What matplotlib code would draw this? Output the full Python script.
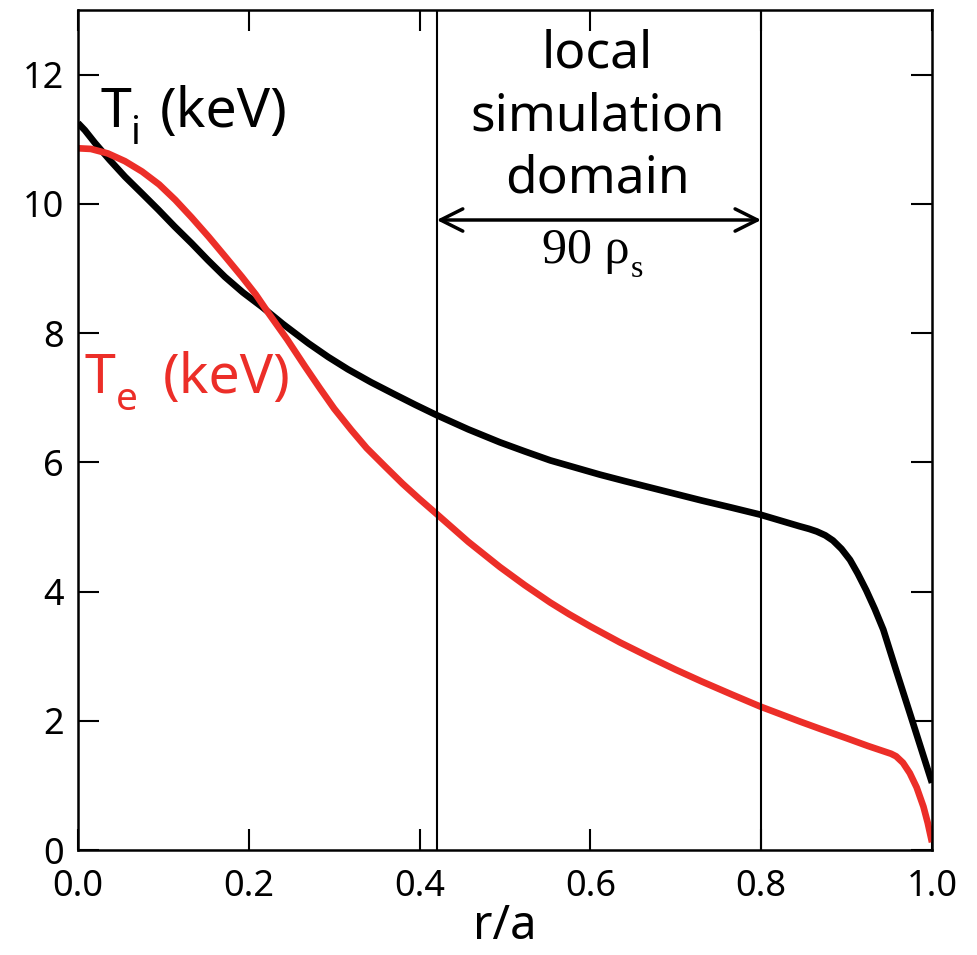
import matplotlib
matplotlib.use("Agg")
import matplotlib.pyplot as plt

plt.rcParams['font.family'] = ['Noto Sans', 'DejaVu Sans']

# ion temperature profile (keV) vs r/a
r_i = [0.0, 0.008, 0.02, 0.037, 0.055, 0.075, 0.094, 0.113, 0.133, 0.152,
       0.172, 0.193, 0.215, 0.24, 0.27, 0.293, 0.316, 0.343, 0.371, 0.395,
       0.42, 0.457, 0.494, 0.523, 0.553, 0.582, 0.611, 0.64, 0.67, 0.70,
       0.73, 0.765, 0.799, 0.822, 0.845, 0.856, 0.865, 0.875, 0.884, 0.894,
       0.904, 0.913, 0.923, 0.933, 0.943, 0.958, 0.974, 0.987, 1.0]
T_i = [11.25, 11.14, 10.94, 10.68, 10.42, 10.16, 9.91, 9.65, 9.39, 9.13,
       8.87, 8.63, 8.41, 8.14, 7.84, 7.63, 7.44, 7.24, 7.05, 6.89,
       6.73, 6.51, 6.31, 6.17, 6.03, 5.92, 5.81, 5.71, 5.61, 5.51,
       5.41, 5.30, 5.19, 5.10, 5.01, 4.97, 4.93, 4.87, 4.79, 4.66,
       4.49, 4.28, 4.02, 3.73, 3.41, 2.78, 2.12, 1.58, 1.04]

# electron temperature profile (keV) vs r/a
r_e = [0.0, 0.015, 0.035, 0.055, 0.075, 0.095, 0.114, 0.133, 0.153, 0.172,
       0.192, 0.208, 0.223, 0.245, 0.266, 0.283, 0.30, 0.32, 0.338, 0.36,
       0.38, 0.40, 0.42, 0.457, 0.494, 0.523, 0.553, 0.575, 0.60, 0.635,
       0.67, 0.70, 0.73, 0.765, 0.799, 0.845, 0.87, 0.90, 0.925, 0.943,
       0.952, 0.958, 0.966, 0.974, 0.982, 0.99, 0.995, 1.0]
T_e = [10.86, 10.85, 10.78, 10.66, 10.50, 10.30, 10.06, 9.79, 9.49, 9.19,
       8.87, 8.60, 8.31, 7.90, 7.48, 7.15, 6.83, 6.50, 6.22, 5.93,
       5.67, 5.43, 5.20, 4.77, 4.38, 4.10, 3.83, 3.65, 3.46, 3.21,
       2.98, 2.79, 2.61, 2.41, 2.22, 1.99, 1.87, 1.73, 1.61, 1.53,
       1.49, 1.45, 1.35, 1.19, 0.97, 0.67, 0.42, 0.12]

# local simulation domain edges
dom_lo = 0.42
dom_hi = 0.80

xticks = [0.0, 0.2, 0.4, 0.6, 0.8, 1.0]
yticks = [0, 2, 4, 6, 8, 10, 12]

red = '#ec2e28'

fig = plt.figure(figsize=(9.77, 9.55), dpi=100)
ax = fig.add_axes([78 / 977, 1 - 850 / 955, 854 / 977, 840 / 955])

ax.plot(r_i, T_i, color='black', lw=4.8, solid_joinstyle='round',
        solid_capstyle='butt')
ax.plot(r_e, T_e, color=red, lw=4.8, solid_joinstyle='round',
        solid_capstyle='butt')

ax.axvline(dom_lo, color='black', lw=1.5)
ax.axvline(dom_hi, color='black', lw=1.5)

ax.annotate('', xy=(dom_lo, 9.75), xytext=(dom_hi, 9.75),
            arrowprops=dict(arrowstyle='<->,head_length=0.8,head_width=0.4',
                            lw=2.5, color='black', shrinkA=0, shrinkB=0,
                            mutation_scale=20))

ax.text(0.608, 10.17, 'local\nsimulation\ndomain', ha='center',
        va='baseline', fontsize=37, linespacing=1.3)

# "90 rho_s" in a serif face, subscript placed by hand
serif = ['Liberation Serif', 'DejaVu Serif']
ax.text(0.543, 9.09, u'90 \u03c1', ha='left', va='baseline',
        fontsize=36, family=serif)
ax.annotate('s', xy=(0.543, 9.09), xytext=(64, -10),
            textcoords='offset points', ha='left', va='baseline',
            fontsize=23, family=serif)

# curve labels: T, subscript, (keV)
for x0, y0, sub, dx, col in [(0.026, 11.19, 'i', 43, 'black'),
                             (0.008, 7.07, 'e', 56, red)]:
    ax.text(x0, y0, 'T', fontsize=40, va='baseline', color=col)
    ax.annotate(sub, xy=(x0, y0), xytext=(22, -12), textcoords='offset points',
                fontsize=28, va='baseline', color=col)
    ax.annotate('(keV)', xy=(x0, y0), xytext=(dx, 0), textcoords='offset points',
                fontsize=40, va='baseline', color=col)

ax.set_xlim(0, 1)
ax.set_ylim(0, 13)
ax.set_xticks(xticks)
ax.set_xticklabels(['%.1f' % v for v in xticks])
ax.set_yticks(yticks)
ax.tick_params(direction='in', length=15, width=1.5, top=True, right=True,
               labelsize=26)
ax.tick_params(axis='x', pad=14)
ax.tick_params(axis='y', pad=10)
for s in ax.spines.values():
    s.set_linewidth(1.8)

ax.set_xlabel('r/a', fontsize=34, labelpad=-2)

fig.savefig('out.png', dpi=100)
